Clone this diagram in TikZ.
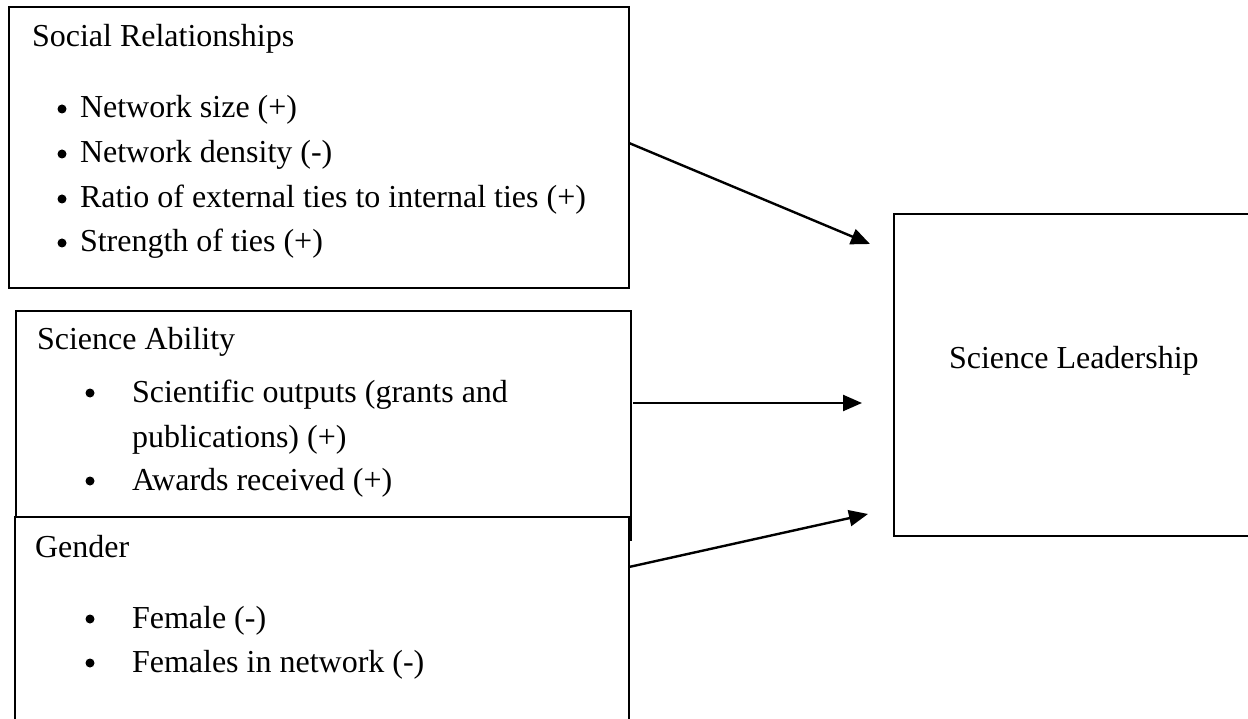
\documentclass[tikz,border=0pt]{standalone}
\usepackage{fontspec}
\setmainfont{Liberation Serif}
\usetikzlibrary{arrows.meta}
\tikzset{
  box/.style={draw=black, line width=1.8pt, rectangle, inner sep=0pt, outer sep=0pt, anchor=north west, fill=white},
  txt/.style={anchor=base west, inner sep=0pt, outer sep=0pt, font=\fontsize{32}{38}\selectfont},
  dot/.style={circle, fill=black, inner sep=0pt, outer sep=0pt, minimum size=9pt},
  arr/.style={line width=2.4pt, -{Triangle[length=19pt,width=16pt]}}
}
\begin{document}
\begin{tikzpicture}[x=1pt,y=-1pt]
\useasboundingbox (0,0) rectangle (1248,719);
\clip (0,0) rectangle (1248,719);
% boxes
\node[box, minimum width=620pt, minimum height=281pt] (social) at (9,7) {};
\node[box, minimum width=615pt, minimum height=229pt] (ability) at (16,311) {};
\node[box, minimum width=614pt, minimum height=260pt] (gender) at (15,517) {};
\node[box, minimum width=420pt, minimum height=322pt] (leader) at (894,214) {};
% social relationships
\node[txt] (s0) at (32,47) {Social Relationships};
\node[dot] (sb1) at (62,109) {};
\node[txt] (s1) at (80,118) {Network size (+)};
\node[dot] (sb2) at (62,154) {};
\node[txt] (s2) at (80,163) {Network density (-)};
\node[dot] (sb3) at (62,199) {};
\node[txt] (s3) at (80,208) {Ratio of external ties to internal ties (+)};
\node[dot] (sb4) at (62,243) {};
\node[txt] (s4) at (80,252) {Strength of ties (+)};
% science ability
\node[txt] (a0) at (37,350) {Science Ability};
\node[dot] (ab1) at (90,393) {};
\node[txt] (a1) at (132,402) {Scientific outputs (grants and};
\node[txt] (a2) at (132,447) {publications) (+)};
\node[dot] (ab3) at (90,481) {};
\node[txt] (a3) at (132,490) {Awards received (+)};
% gender
\node[txt] (g0) at (35,557) {Gender};
\node[dot] (gb1) at (90,619) {};
\node[txt] (g1) at (132,628) {Female (-)};
\node[dot] (gb2) at (90,663) {};
\node[txt] (g2) at (132,672) {Females in network (-)};
% leadership
\node[txt] (l0) at (949,369) {Science Leadership};
% connectors
\coordinate (c1) at ([yshift=4.5pt]social.east);
\coordinate (t1) at ([xshift=-24pt,yshift=-30pt]leader.north west);
\coordinate (c2) at (633,403);
\coordinate (t2) at (862,403);
\coordinate (c3) at (629,567);
\coordinate (t3) at ([xshift=-26pt,yshift=22pt]leader.south west);
\draw[arr] (c1) -- (t1);
\draw[arr] (c2) -- (t2);
\draw[arr] (c3) -- (t3);
\end{tikzpicture}
\end{document}
